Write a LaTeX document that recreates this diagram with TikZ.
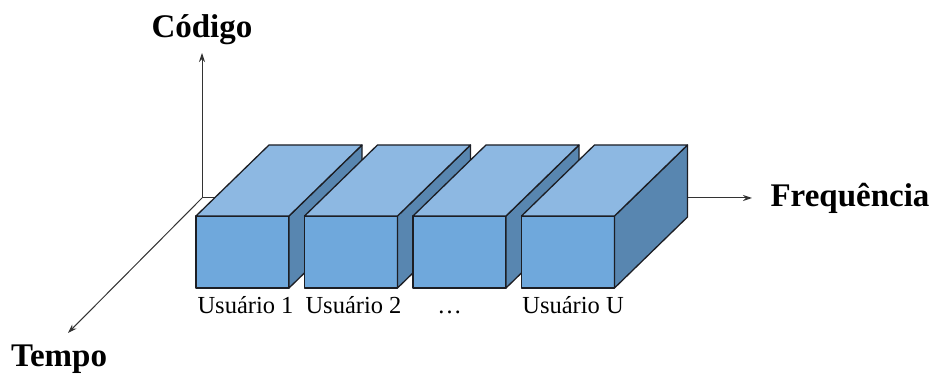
\documentclass[tikz,border=0pt]{standalone}
\usepackage{fontspec}
\setmainfont{Liberation Serif}
\usetikzlibrary{positioning,arrows.meta}

\definecolor{frontblue}{RGB}{111,168,220}
\definecolor{topblue}{RGB}{141,184,226}
\definecolor{sideblue}{RGB}{88,134,176}
\definecolor{edgegray}{RGB}{28,30,36}

\begin{document}
\begin{tikzpicture}
    [ x = 1pt, y = 1pt
    , axis/.style =
      { draw=black!80, line width=1pt, -{Stealth[length=9pt,width=6pt]} }
    , face/.style =
      { draw=edgegray, line width=1.3pt, line join=round }
    , frontface/.style =
      { face, fill=frontblue, minimum width=93pt, minimum height=72pt
      , inner sep=0pt, outer sep=0pt }
    , topface/.style =
      { face, fill=topblue }
    , sideface/.style =
      { face, fill=sideblue }
    , axislabel/.style =
      { font=\fontsize{33}{36}\selectfont\bfseries }
    , userlabel/.style =
      { font=\fontsize{24.5}{27}\selectfont, text height=17pt, text depth=5pt
      , inner sep=0pt, outer sep=0pt }
    ]
    \useasboundingbox (0,0) rectangle (937,374);

    % axes
    \coordinate (O) at (202,176);
    \coordinate (code) at (202,321);
    \coordinate (freq) at (752,176);
    \coordinate (time) at (68,41);
    \draw [axis] (O) -- (code);
    \draw [axis] (O) -- (freq);
    \draw [axis] (O) -- (time);

    \node [axislabel, anchor=base] (codigo) at (202,336) {Código};
    \node [axislabel, anchor=base] (frequencia) at (850,167) {Frequência};
    \node [axislabel, anchor=base] (tempo) at (59,7) {Tempo};

    % one block per user, left to right so each hides the one before
    \foreach \i in {1,...,4}
    {
      \node [frontface] (u\i) at (242.5+108.5*\i-108.5,122) {};
      \draw [sideface] (u\i.north east) -- ([shift={(73,71)}]u\i.north east)
        -- ([shift={(73,71)}]u\i.south east) -- (u\i.south east) -- cycle;
      \draw [topface] (u\i.north west) -- ([shift={(73,71)}]u\i.north west)
        -- ([shift={(73,71)}]u\i.north east) -- (u\i.north east) -- cycle;
    }

    \node [userlabel, xshift=3pt] (l1) [below=9pt of u1] {Usuário 1};
    \node [userlabel, xshift=2.5pt] (l2) [below=9pt of u2] {Usuário 2};
    \node [userlabel, xshift=-10pt] (l3) [below=9pt of u3] {…};
    \node [userlabel, xshift=5pt] (l4) [below=9pt of u4] {Usuário U};
\end{tikzpicture}
\end{document}
